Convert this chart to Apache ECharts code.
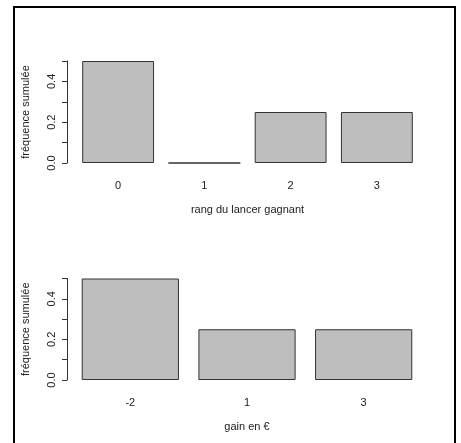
<!DOCTYPE html>
<html>
<head>
<meta charset="utf-8">
<script src="https://cdn.jsdelivr.net/npm/echarts@6/dist/echarts.min.js"></script>
<style>
  html, body { margin: 0; padding: 0; background: #fff; }
  #chart { width: 461px; height: 443px; }
</style>
</head>
<body>
<div id="chart"></div>
<script>
// Rang du lancer gagnant : fréquences
const rangCategories = ['0', '1', '2', '3'];
const rangFreq = [0.5, 0, 0.25, 0.25];

// Gain en euros : fréquences
const gainCategories = ['-2', '1', '3'];
const gainFreq = [0.5, 0.25, 0.25];

const yTitle = 'fréquence sumulée';
const xTitleTop = 'rang du lancer gagnant';
const xTitleBottom = 'gain en €';

const FONT = 'Liberation Sans, Arial, sans-serif';
const TEXT = '#222';

function yAxisCfg(gridIndex, offset) {
  return {
    type: 'value',
    gridIndex: gridIndex,
    min: 0,
    max: 0.5,
    interval: 0.1,
    offset: offset,
    splitLine: { show: false },
    axisLine: { show: true, lineStyle: { color: '#333', width: 1 } },
    axisTick: { show: true, length: 5, lineStyle: { color: '#333' } },
    axisLabel: {
      rotate: 90,
      margin: 10,
      fontFamily: FONT,
      fontSize: 11,
      color: TEXT,
      formatter: function (v) {
        const k = Math.round(v * 10);
        return k % 2 === 0 ? v.toFixed(1) : '';
      }
    },
    name: yTitle,
    nameLocation: 'middle',
    nameRotate: 90,
    nameGap: 36,
    nameTextStyle: { fontFamily: FONT, fontSize: 11, color: TEXT }
  };
}

function xAxisCfg(gridIndex, cats, title) {
  return {
    type: 'category',
    gridIndex: gridIndex,
    data: cats,
    axisLine: { show: false },
    axisTick: { show: false },
    axisLabel: { margin: 17, fontFamily: FONT, fontSize: 11, color: TEXT },
    name: title,
    nameLocation: 'middle',
    nameGap: 41,
    nameTextStyle: { fontFamily: FONT, fontSize: 11, color: TEXT }
  };
}

const barStyle = { color: '#bebebe', borderColor: '#333', borderWidth: 1 };

const chart = echarts.init(document.getElementById('chart'), null, { renderer: 'canvas' });
chart.setOption({
  animation: false,
  backgroundColor: '#fff',
  grid: [
    { left: 75, top: 61, width: 345, height: 102 },
    { left: 72, top: 278.5, width: 350, height: 101.5 }
  ],
  xAxis: [
    xAxisCfg(0, rangCategories, xTitleTop),
    xAxisCfg(1, gainCategories, xTitleBottom)
  ],
  yAxis: [
    yAxisCfg(0, 8),
    yAxisCfg(1, 5)
  ],
  series: [
    {
      type: 'bar', xAxisIndex: 0, yAxisIndex: 0,
      data: rangFreq, barWidth: '83.33%', itemStyle: barStyle
    },
    {
      type: 'bar', xAxisIndex: 1, yAxisIndex: 1,
      data: gainFreq, barWidth: '83.33%', itemStyle: barStyle
    }
  ],
  graphic: [
    {
      type: 'rect',
      shape: { x: 14, y: 7, width: 441, height: 450 },
      style: { fill: 'none', stroke: '#000', lineWidth: 2 },
      silent: true
    }
  ]
});
</script>
</body>
</html>
